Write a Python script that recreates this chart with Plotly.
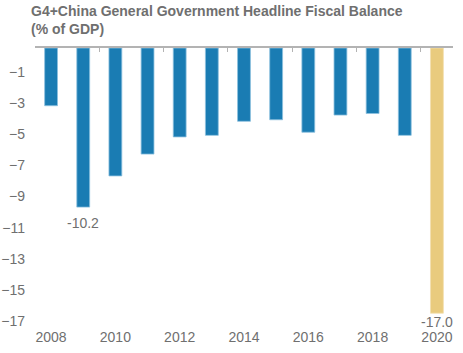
import plotly.graph_objects as go

years = [2008, 2009, 2010, 2011, 2012, 2013, 2014, 2015, 2016, 2017, 2018, 2019, 2020]
balance = [-3.7, -10.2, -8.2, -6.8, -5.7, -5.6, -4.7, -4.6, -5.4, -4.3, -4.2, -5.6, -17.0]
colors = ["#1a7cb3"] * 12 + ["#e9cb7e"]
line_colors = ["#8cc0de"] * 12 + ["#f3e0ae"]
y_ticks = [-1, -3, -5, -7, -9, -11, -13, -15, -17]
x_ticks = [2008, 2010, 2012, 2014, 2016, 2018, 2020]
top_ticks = [2007.5, 2009.5, 2011.5, 2013.5, 2015.5, 2017.5, 2019.5]
labelled = {2009: -6, 2020: 1}

gray = "#6f6f6f"
font = "Liberation Sans, Arial, sans-serif"

fig = go.Figure()
fig.add_trace(go.Bar(x=years, y=balance, width=0.4,
                     marker=dict(color=colors, line=dict(color=line_colors, width=0.8)),
                     hoverinfo="x+y"))
fig.add_trace(go.Scatter(x=[years[0]], y=[0], xaxis="x2", mode="markers",
                         marker=dict(opacity=0), hoverinfo="skip", showlegend=False))

for yr, shift in labelled.items():
    v = balance[years.index(yr)]
    fig.add_annotation(x=yr, y=v, text=f"{v:.1f}", showarrow=False, yanchor="top",
                       yshift=shift, font=dict(size=14, color=gray, family=font))

fig.add_annotation(xref="paper", yref="paper", x=-6 / 418, y=1.0, yshift=47,
                   xanchor="left", yanchor="top", align="left", showarrow=False,
                   text="<b>G4+China General Government Headline Fiscal Balance<br>(% of GDP)</b>",
                   font=dict(size=14, color=gray, family=font))

fig.update_layout(
    width=463, height=353, margin=dict(l=35, r=10, t=47.5, b=32),
    paper_bgcolor="white", plot_bgcolor="white", showlegend=False, bargap=0.6,
    font=dict(family=font, size=14, color=gray),
    xaxis=dict(range=[2007.5, 2020.5], tickvals=x_ticks, showline=False, showgrid=False,
               zeroline=False, ticks="", ticklabelstandoff=6, automargin=False),
    xaxis2=dict(range=[2007.5, 2020.5], overlaying="x", side="top", anchor="y",
                showline=True, linecolor="#b3b3b3", linewidth=1.5, tickvals=top_ticks,
                ticks="inside", ticklen=4, tickwidth=1, tickcolor="#b3b3b3",
                showticklabels=False, showgrid=False, zeroline=False, automargin=False),
    yaxis=dict(range=[-17.5, 0], tickvals=y_ticks, showgrid=False, zeroline=False,
               showline=False, ticks="", ticklabelshift=8, ticklabelstandoff=9,
               automargin=False),
)

fig.write_html("out.html")
